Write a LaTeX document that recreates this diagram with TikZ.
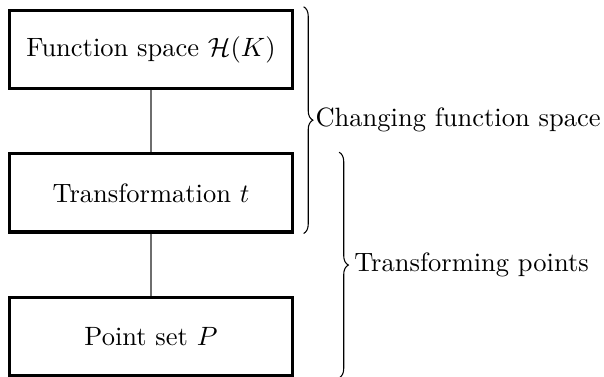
\documentclass[tikz,border=0pt]{standalone}
\usepackage{amsmath}
\usepackage{amssymb}
\usepackage{tikz}
\usetikzlibrary{
  positioning,
  decorations.pathreplacing
}
\definecolor{LinkGray}{RGB}{110,110,110}
\tikzset{
  stagebox/.style={draw=black,line width=1.2pt,minimum width=106.8pt,minimum height=29.5pt,align=center},
  link/.style={draw=LinkGray,line width=0.45pt},
  bracket/.style={decorate,decoration={brace,amplitude=3.5pt},line width=0.4pt}
}

\begin{document}
\begin{tikzpicture}[node distance=23.4pt]
\useasboundingbox (0,0) rectangle (228pt,-142.3pt);
\node[stagebox] (space) at (57pt,-18.7pt) {Function space $\mathcal{H}(K)$};
\node[stagebox, below=of space] (trans) {Transformation $t$};
\node[stagebox, below=of trans] (points) {Point set $P$};

\draw[link] (space) -- (trans);
\draw[link] (trans) -- (points);

\draw[bracket] ([xshift=3.6pt,yshift=0.8pt]space.north east) -- ([xshift=3.6pt]trans.south east)
  node[midway,right=1pt] (lblspace) {Changing function space};
\draw[bracket] ([xshift=17pt]trans.north east) -- ([xshift=17pt,yshift=-0.4pt]points.south east)
  node[midway,right=2.2pt] (lblpoints) {Transforming points};
\end{tikzpicture}
\end{document}
